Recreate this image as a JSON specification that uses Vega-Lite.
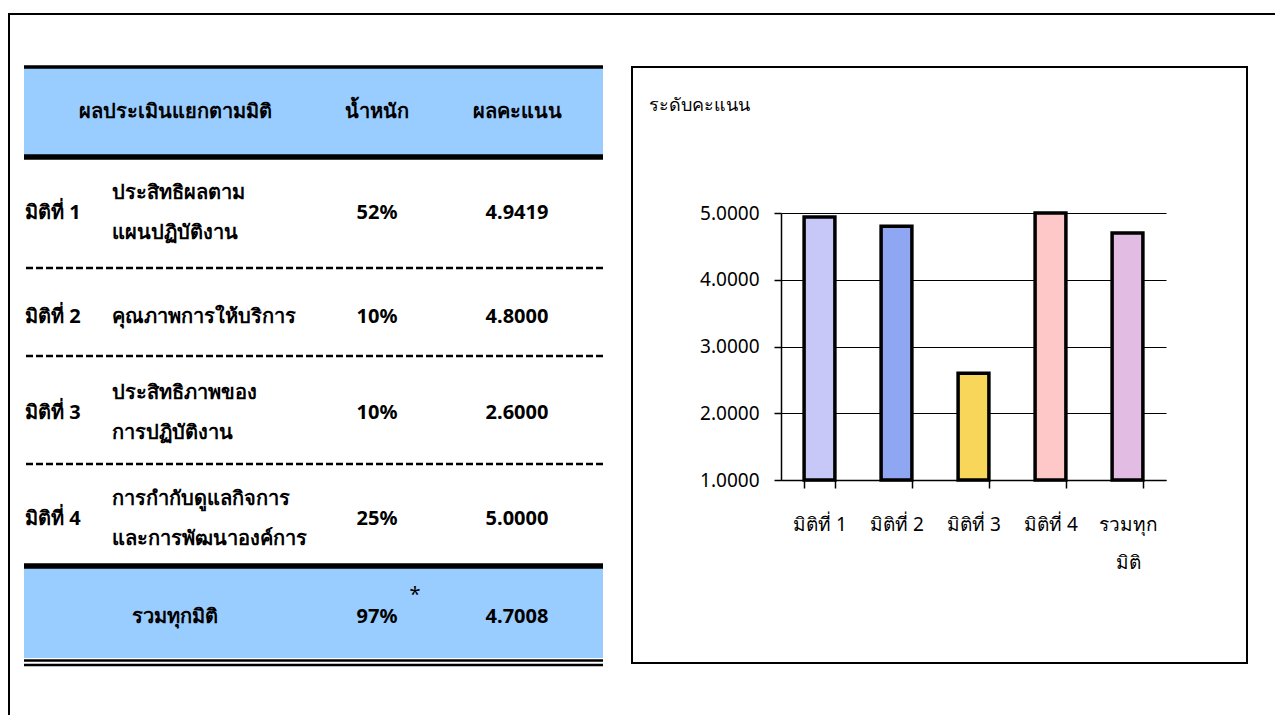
{
  "$schema": "https://vega.github.io/schema/vega-lite/v6.json",
  "padding": {"left": 8, "top": 13, "right": 0, "bottom": 0},
  "background": "white",
  "spacing": 0,
  "bounds": "flush",
  "config": {
    "view": {"stroke": null},
    "font": "Tahoma, 'Noto Sans', sans-serif"
  },
  "datasets": {
    "cells": [
      {"row": 0, "c": 2, "text": "ผลประเมินแยกตามมิติ"},
      {"row": 0, "c": 3, "text": "น้ำหนัก"},
      {"row": 0, "c": 4, "text": "ผลคะแนน"},
      {"row": 1, "c": 0, "text": "มิติที่ 1"},
      {"row": 1, "c": 1, "text": "ประสิทธิผลตาม\nแผนปฏิบัติงาน"},
      {"row": 1, "c": 3, "text": "52%"},
      {"row": 1, "c": 4, "text": "4.9419"},
      {"row": 2, "c": 0, "text": "มิติที่ 2"},
      {"row": 2, "c": 1, "text": "คุณภาพการให้บริการ"},
      {"row": 2, "c": 3, "text": "10%"},
      {"row": 2, "c": 4, "text": "4.8000"},
      {"row": 3, "c": 0, "text": "มิติที่ 3"},
      {"row": 3, "c": 1, "text": "ประสิทธิภาพของ\nการปฏิบัติงาน"},
      {"row": 3, "c": 3, "text": "10%"},
      {"row": 3, "c": 4, "text": "2.6000"},
      {"row": 4, "c": 0, "text": "มิติที่ 4"},
      {"row": 4, "c": 1, "text": "การกำกับดูแลกิจการ\nและการพัฒนาองค์การ"},
      {"row": 4, "c": 3, "text": "25%"},
      {"row": 4, "c": 4, "text": "5.0000"},
      {"row": 5, "c": 2, "text": "รวมทุกมิติ"},
      {"row": 5, "c": 3, "text": "97%"},
      {"row": 5, "c": 4, "text": "4.7008"}
    ],
    "notes": [
      {"row": 5, "c": 3, "text": "*"}
    ],
    "bands": [
      {"part": "header", "from": 0, "to": 1},
      {"part": "total", "from": 5, "to": 6}
    ],
    "lines": [
      {"edge": 0, "kind": "top"},
      {"edge": 1, "kind": "solid"},
      {"edge": 2, "kind": "dash"},
      {"edge": 3, "kind": "dash"},
      {"edge": 4, "kind": "dash"},
      {"edge": 5, "kind": "solid"},
      {"edge": 6, "kind": "double"}
    ],
    "bars": [
      {"cat": "มิติที่ 1", "score": 4.9419},
      {"cat": "มิติที่ 2", "score": 4.8},
      {"cat": "มิติที่ 3", "score": 2.6},
      {"cat": "มิติที่ 4", "score": 5.0},
      {"cat": "รวมทุกมิติ", "score": 4.7008}
    ]
  },
  "vconcat": [
    {
      "width": 1267,
      "height": 2,
      "view": {"fill": "black", "stroke": null},
      "data": {"values": []},
      "mark": "point"
    },
    {
      "hconcat": [
        {
          "width": 2,
          "height": 700,
          "view": {"fill": "black", "stroke": null},
          "data": {"values": []},
          "mark": "point"
        },
        {
          "width": 579,
          "height": 596,
          "resolve": {"scale": {"y": "independent"}},
          "layer": [
            {
              "encoding": {},
              "layer": [
                {
                  "data": {"name": "bands"},
                  "mark": {"type": "rect", "color": "#99ccff"},
                  "encoding": {
                    "y": {"field": "from", "type": "quantitative", "scale": {"domain": [0, 1, 2, 3, 4, 5, 6], "range": [0, 90, 201, 289, 397, 499, 591], "zero": false, "nice": false}, "axis": null},
                    "y2": {"field": "to"}
                  }
                },
                {
                  "data": {"name": "lines"},
                  "transform": [{"filter": "datum.kind == 'top'"}],
                  "mark": {"type": "rule", "color": "black", "strokeWidth": 3.5},
                  "encoding": {
                    "y": {"field": "edge", "type": "quantitative", "axis": null}
                  }
                },
                {
                  "data": {"name": "lines"},
                  "transform": [{"filter": "datum.kind == 'solid'"}],
                  "mark": {"type": "rule", "color": "black", "strokeWidth": 5.5},
                  "encoding": {
                    "y": {"field": "edge", "type": "quantitative", "axis": null}
                  }
                },
                {
                  "data": {"name": "lines"},
                  "transform": [{"filter": "datum.kind == 'dash'"}],
                  "mark": {"type": "rule", "color": "black", "strokeWidth": 2.5, "strokeDash": [7, 3]},
                  "encoding": {
                    "y": {"field": "edge", "type": "quantitative", "axis": null}
                  }
                },
                {
                  "data": {"name": "lines"},
                  "transform": [{"filter": "datum.kind == 'double'"}],
                  "mark": {"type": "rule", "color": "black", "strokeWidth": 2.5, "yOffset": 2.5},
                  "encoding": {
                    "y": {"field": "edge", "type": "quantitative", "axis": null}
                  }
                },
                {
                  "data": {"name": "lines"},
                  "transform": [{"filter": "datum.kind == 'double'"}],
                  "mark": {"type": "rule", "color": "black", "strokeWidth": 2.5, "yOffset": 7},
                  "encoding": {
                    "y": {"field": "edge", "type": "quantitative", "axis": null}
                  }
                }
              ]
            },
            {
              "encoding": {
                "y": {"field": "row", "type": "quantitative", "scale": {"domain": [0, 1, 2, 3, 4, 5], "range": [45, 146, 250, 346, 452, 550], "zero": false, "nice": false}, "axis": null},
                "x": {"field": "c", "type": "quantitative", "scale": {"domain": [0, 1, 2, 3, 4], "range": [1, 88, 151, 353, 493], "zero": false, "nice": false}, "axis": null},
                "text": {"field": "text"}
              },
              "layer": [
                {
                  "data": {"name": "cells"},
                  "transform": [{"filter": "datum.c <= 1 && indexof(datum.text, '\\n') < 0"}],
                  "mark": {"type": "text", "align": "left", "baseline": "middle", "fontSize": 20, "fontWeight": "bold", "color": "black"}
                },
                {
                  "data": {"name": "cells"},
                  "transform": [{"filter": "datum.c <= 1 && indexof(datum.text, '\\n') >= 0"}],
                  "mark": {"type": "text", "align": "left", "baseline": "middle", "fontSize": 20, "fontWeight": "bold", "color": "black", "lineBreak": "\n", "lineHeight": 40, "dy": -20}
                },
                {
                  "data": {"name": "cells"},
                  "transform": [{"filter": "datum.c >= 2"}],
                  "mark": {"type": "text", "align": "center", "baseline": "middle", "fontSize": 20, "fontWeight": "bold", "color": "black"}
                },
                {
                  "data": {"name": "notes"},
                  "mark": {"type": "text", "align": "center", "baseline": "middle", "fontSize": 20, "fontWeight": "normal", "color": "black", "dx": 38, "dy": -22}
                }
              ]
            }
          ]
        },
        {
          "width": 1,
          "height": 10,
          "data": {"values": []},
          "mark": "point"
        },
        {
          "width": 615,
          "height": 596,
          "view": {"stroke": "black", "strokeWidth": 2},
          "title": {"text": "ระดับคะแนน", "anchor": "start", "frame": "group", "dx": 17, "dy": 66, "offset": 0, "baseline": "bottom", "fontSize": 18, "fontWeight": "normal", "color": "black"},
          "data": {"name": "bars"},
          "mark": {"type": "bar", "stroke": "black", "strokeWidth": 3.5},
          "encoding": {
            "x": {
              "field": "cat",
              "type": "nominal",
              "sort": null,
              "scale": {"type": "band", "range": [149, 534], "paddingInner": 0.6, "paddingOuter": 0.3},
              "axis": {
                "orient": "bottom",
                "offset": -183,
                "title": null,
                "labelAngle": 0,
                "labelFontSize": 19,
                "labelColor": "black",
                "labelPadding": 27,
                "labelLineHeight": 38,
                "labelExpr": "datum.value == 'รวมทุกมิติ' ? ['รวมทุก', 'มิติ'] : datum.value",
                "domainColor": "black",
                "domainWidth": 1.5,
                "tickColor": "black",
                "tickWidth": 1.5,
                "tickSize": 8,
                "tickBand": "extent",
                "grid": false
              }
            },
            "y": {
              "field": "score",
              "type": "quantitative",
              "scale": {"domain": [1, 5], "range": [413, 146], "zero": false, "nice": false},
              "axis": {
                "orient": "left",
                "offset": -149,
                "title": null,
                "values": [1, 2, 3, 4, 5],
                "format": ".4f",
                "labelFontSize": 19,
                "labelColor": "black",
                "labelPadding": 15,
                "domainColor": "black",
                "domainWidth": 1.5,
                "tickColor": "black",
                "tickWidth": 1.5,
                "tickSize": 7,
                "grid": true,
                "gridColor": "black",
                "gridWidth": 1.2,
                "gridOpacity": 1
              }
            },
            "y2": {"datum": 1},
            "fill": {
              "field": "cat",
              "type": "nominal",
              "sort": null,
              "scale": {"domain": ["มิติที่ 1", "มิติที่ 2", "มิติที่ 3", "มิติที่ 4", "รวมทุกมิติ"], "range": ["#c8c8f8", "#8fa6f2", "#f7d65a", "#ffc8c8", "#e2bce2"]},
              "legend": null
            }
          }
        }
      ],
      "spacing": 14,
      "center": true,
      "bounds": "flush"
    }
  ]
}
